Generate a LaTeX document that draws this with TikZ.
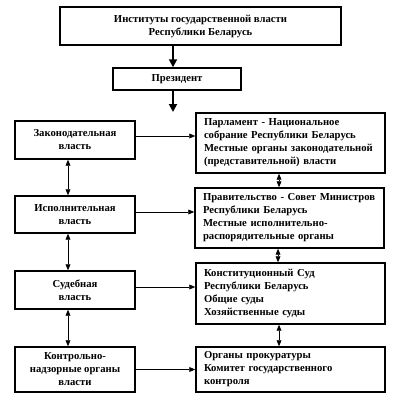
\documentclass[tikz,border=0pt]{standalone}
\usepackage{fontspec}
\setmainfont{Liberation Serif}
\usetikzlibrary{arrows.meta}
\tikzset{
  box/.style 2 args={draw, line width=1.1pt, minimum width=#1*0.75pt, minimum height=#2*0.75pt, inner sep=0pt, font=\bfseries\fontsize{8}{9.75}\selectfont},
  cbox/.style={align=center},
  lbox/.style={align=left, text width=173*0.75pt},
  thinarr/.style={line width=0.6pt, -{Triangle[length=4.5pt,width=3.6pt]}},
  dbl/.style={line width=0.6pt, {Triangle[length=4.5pt,width=3.6pt]}-{Triangle[length=4.5pt,width=3.6pt]}},
  bigarr/.style={line width=1.4pt, -{Triangle[length=6pt,width=6pt]}}
}
\begin{document}
\begin{tikzpicture}[x=0.75pt,y=-0.75pt]
\useasboundingbox (0,0) rectangle (400,407);
\fill[white] (0,0) rectangle (400,407);
\node[box={281}{38}, cbox] (top) at (200.5,26) {Институты государственной власти\\Республики Беларусь};
\node[box={128}{22}, cbox] (pres) at (177,79) {Президент};
\coordinate (ax) at (173,0);
\coordinate (pend) at (173,112);
\draw[bigarr] (top.south -| ax) -- (pres.north -| ax);
\draw[bigarr] (pres.south -| ax) -- (pend);

\node[box={120}{38}, cbox] (l1) at (75,140) {Законодательная\\власть};
\node[box={120}{37}, cbox] (l2) at (75,214.5) {Исполнительная\\власть};
\node[box={120}{38}, cbox] (l3) at (75,290) {Судебная\\власть};
\node[box={120}{45}, cbox] (l4) at (75,369.5) {Контрольно-\\надзорные органы\\власти};

\node[box={189}{60}, lbox] (r1) at (290.5,143) {Парламент - Национальное\\собрание Республики Беларусь\\Местные органы законодательной\\(представительной) власти};
\node[box={189}{60}, lbox] (r2) at (289.5,218) {Правительство - Совет Министров\\Республики Беларусь\\Местные исполнительно-\\распорядительные органы};
\node[box={189}{61}, lbox] (r3) at (290.5,293.5) {Конституционный Суд\\Республики Беларусь\\Общие суды\\Хозяйственные суды};
\node[box={189}{45}, lbox] (r4) at (290.5,369.5) {Органы прокуратуры\\Комитет государственного\\контроля};

\draw[thinarr] ([yshift=3pt]l1.east) -- ([yshift=3pt]l1.east -| r1.west);
\draw[thinarr] ([yshift=1.9pt]l2.east) -- ([yshift=1.9pt]l2.east -| r2.west);
\draw[thinarr] ([yshift=2.25pt]l3.east) -- ([yshift=2.25pt]l3.east -| r3.west);
\draw[thinarr] (l4.east) -- (r4.west);

\draw[dbl] ([xshift=-5.25pt]l1.south) -- ([xshift=-5.25pt]l2.north);
\draw[dbl] ([xshift=-5.25pt]l2.south) -- ([xshift=-5.25pt]l3.north);
\draw[dbl] ([xshift=-5.25pt]l3.south) -- ([xshift=-5.25pt]l4.north);
\draw[dbl] ([xshift=-8.6pt]r1.south) -- ([xshift=-8.6pt]r1.south |- r2.north);
\draw[dbl] ([xshift=-8.6pt]r2.south) -- ([xshift=-8.6pt]r2.south |- r3.north);
\draw[dbl] ([xshift=-8.6pt]r3.south) -- ([xshift=-8.6pt]r3.south |- r4.north);
\end{tikzpicture}
\end{document}
